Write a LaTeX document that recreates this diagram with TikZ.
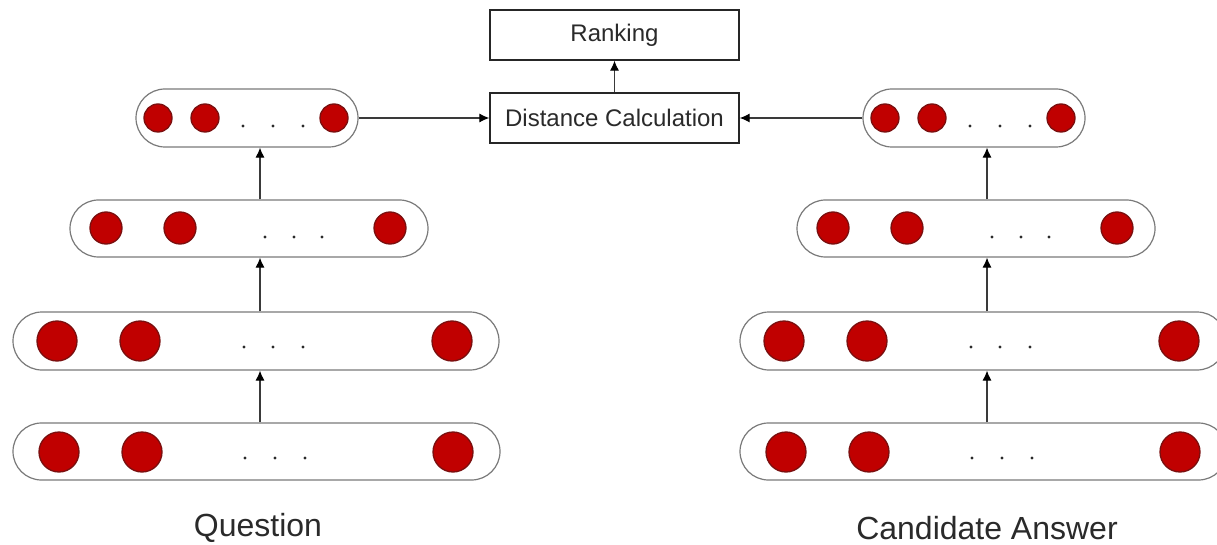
\documentclass[tikz,border=0pt]{standalone}
\usepackage{fontspec}
\setmainfont{Liberation Sans}
\usetikzlibrary{arrows.meta}
\definecolor{neuronfill}{HTML}{C00000}
\definecolor{neuronline}{HTML}{7A0F0F}
\definecolor{pillline}{HTML}{7A7A7A}
\definecolor{txt}{HTML}{2A2A2A}
\definecolor{arrline}{HTML}{3A3A3A}
\begin{document}
\begin{tikzpicture}[x=1pt,y=-1pt,
  pill/.style={draw=pillline, line width=1.2pt, fill=white, rectangle, inner sep=0pt},
  neuron/.style={circle, fill=neuronfill, draw=neuronline, line width=1.3pt, inner sep=0pt},
  dotmark/.style={circle, fill=txt, inner sep=0pt, minimum size=3.4pt},
  procbox/.style={draw=black!85, line width=1.3pt, rectangle, minimum width=249pt, minimum height=50pt, inner sep=0pt, text=txt, font=\fontsize{24}{28}\selectfont},
  caption/.style={text=txt, font=\fontsize{32}{36}\selectfont, inner sep=0pt},
  arr/.style={draw=arrline, line width=1.1pt, -{Latex[length=10pt,width=9pt,color=black]}}
]
\useasboundingbox[fill=white] (0,0) rectangle (1217,545);

% central boxes
\node[procbox] (rank) at (614.5,35) {Ranking};
\node[procbox] (dist) at (614.5,118) {Distance Calculation};

% pills, left column
\node[pill, minimum width=222pt, minimum height=58pt, rounded corners=29pt] (q1) at (247,118) {};
\node[pill, minimum width=358pt, minimum height=57pt, rounded corners=28.5pt] (q2) at (249,228.5) {};
\node[pill, minimum width=486pt, minimum height=58pt, rounded corners=29pt] (q3) at (256,341) {};
\node[pill, minimum width=487pt, minimum height=57pt, rounded corners=28.5pt] (q4) at (256.5,451.5) {};

% pills, right column
\node[pill, minimum width=222pt, minimum height=58pt, rounded corners=29pt] (a1) at (974,118) {};
\node[pill, minimum width=358pt, minimum height=57pt, rounded corners=28.5pt] (a2) at (976,228.5) {};
\node[pill, minimum width=486pt, minimum height=58pt, rounded corners=29pt] (a3) at (983,341) {};
\node[pill, minimum width=487pt, minimum height=57pt, rounded corners=28.5pt] (a4) at (983.5,451.5) {};

% neurons and dots
\foreach \s/\p in {0/q, 727/a} {
  \begin{scope}[xshift=\s]
    % row 1
    \node[neuron, minimum size=28pt] (\p1n1) at (158,118) {};
    \node[neuron, minimum size=28pt] (\p1n2) at (205,118) {};
    \node[neuron, minimum size=28pt] (\p1n3) at (334,118) {};
    \node[dotmark] (\p1d1) at (243,126) {};
    \node[dotmark] (\p1d2) at (273,126) {};
    \node[dotmark] (\p1d3) at (303,126) {};
    % row 2
    \node[neuron, minimum size=32pt] (\p2n1) at (106,228) {};
    \node[neuron, minimum size=32pt] (\p2n2) at (180,228) {};
    \node[neuron, minimum size=32pt] (\p2n3) at (390,228) {};
    \node[dotmark] (\p2d1) at (265,237) {};
    \node[dotmark] (\p2d2) at (294,237) {};
    \node[dotmark] (\p2d3) at (322,237) {};
    % row 3
    \node[neuron, minimum size=40pt] (\p3n1) at (57,341) {};
    \node[neuron, minimum size=40pt] (\p3n2) at (140,341) {};
    \node[neuron, minimum size=40pt] (\p3n3) at (452,341) {};
    \node[dotmark] (\p3d1) at (244,347) {};
    \node[dotmark] (\p3d2) at (273,347) {};
    \node[dotmark] (\p3d3) at (303,347) {};
    % row 4
    \node[neuron, minimum size=40pt] (\p4n1) at (59,452) {};
    \node[neuron, minimum size=40pt] (\p4n2) at (142,452) {};
    \node[neuron, minimum size=40pt] (\p4n3) at (453,452) {};
    \node[dotmark] (\p4d1) at (245,458) {};
    \node[dotmark] (\p4d2) at (275,458) {};
    \node[dotmark] (\p4d3) at (305,458) {};
  \end{scope}
}

% arrow axes
\coordinate (axL) at (260,0);
\coordinate (axR) at (987,0);

% vertical connectors
\draw[arr] (axL |- q4.north) -- (axL |- q3.south);
\draw[arr] (axL |- q3.north) -- (axL |- q2.south);
\draw[arr] (axL |- q2.north) -- (axL |- q1.south);
\draw[arr] (axR |- a4.north) -- (axR |- a3.south);
\draw[arr] (axR |- a3.north) -- (axR |- a2.south);
\draw[arr] (axR |- a2.north) -- (axR |- a1.south);

% to distance and ranking
\draw[arr] (q1.east) -- (dist.west);
\draw[arr] (a1.west) -- (dist.east);
\draw[arr] (dist.north) -- (rank.south);

% captions
\node[caption] (qcap) at (258,528) {Question};
\node[caption] (acap) at (987,528) {Candidate Answer};
\end{tikzpicture}
\end{document}
